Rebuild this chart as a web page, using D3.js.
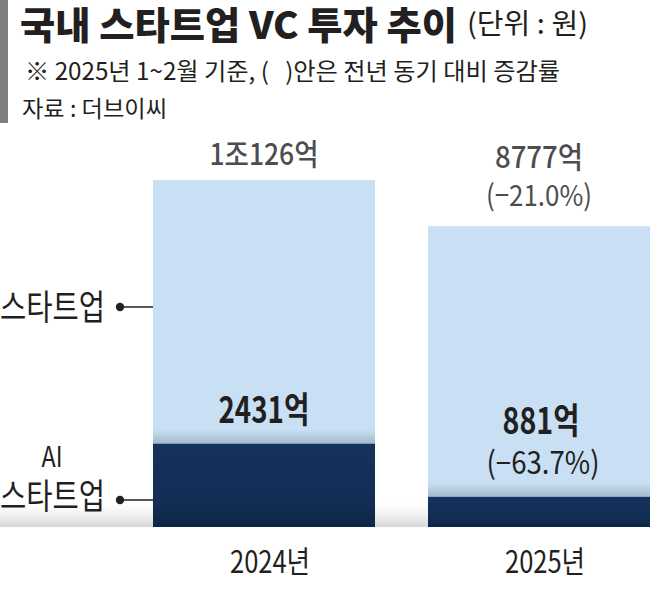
<!DOCTYPE html>
<html>
<head>
<meta charset="utf-8">
<script src="https://cdn.jsdelivr.net/npm/d3@7/dist/d3.min.js"></script>
<style>
  html, body { margin: 0; padding: 0; background: #fff; }
  svg { display: block; }
  text { font-family: "Noto Sans CJK KR", "Noto Sans", sans-serif; white-space: pre; }
</style>
</head>
<body>
<svg id="chart" width="650" height="591"></svg>
<script>
// ---- data ----
const years = ["2024년", "2025년"];
const totalValues = [10126, 8777];      // 스타트업 전체 (억 원)
const aiValues = [2431, 881];           // AI 스타트업 (억 원)
const totalLabels = ["1조126억", "8777억"];
const totalChanges = [null, "(−21.0%)"];
const aiLabels = ["2431억", "881억"];
const aiChanges = [null, "(−63.7%)"];

const titleText = "국내 스타트업 VC 투자 추이";
const unitText = "(단위 : 원)";
const noteText = "※ 2025년 1~2월 기준, (   )안은 전년 동기 대비 증감률";
const sourceText = "자료 : 더브이씨";
const seriesNames = ["스타트업", "AI", "스타트업"];

// ---- setup ----
const svg = d3.select("#chart");
const W = 650, H = 591;
const baseY = 527;

const x = d3.scaleBand().domain(years).range([153, 650]).paddingInner(53 / 275).paddingOuter(0);
const y = d3.scaleLinear().domain([0, d3.max(totalValues)]).range([baseY, 180]);

const defs = svg.append("defs");
const floorG = defs.append("linearGradient").attr("id", "floor").attr("x1", 0).attr("y1", 0).attr("x2", 0).attr("y2", 1);
floorG.append("stop").attr("offset", "0%").attr("stop-color", "#ffffff").attr("stop-opacity", 0);
floorG.append("stop").attr("offset", "100%").attr("stop-color", "#d6d6d6").attr("stop-opacity", 1);

const shadeG = defs.append("linearGradient").attr("id", "shade").attr("x1", 0).attr("y1", 0).attr("x2", 0).attr("y2", 1);
shadeG.append("stop").attr("offset", "0%").attr("stop-color", "#c9e0f4");
shadeG.append("stop").attr("offset", "100%").attr("stop-color", "#a4b8ca");

const darkG = defs.append("linearGradient").attr("id", "dark").attr("x1", 0).attr("y1", 0).attr("x2", 0).attr("y2", 1);
darkG.append("stop").attr("offset", "0%").attr("stop-color", "#14325b");
darkG.append("stop").attr("offset", "70%").attr("stop-color", "#122e55");
darkG.append("stop").attr("offset", "100%").attr("stop-color", "#0d2646");

// helper for condensed text
function label(g, txt, opts) {
  const t = g.append("text")
    .attr("x", opts.x).attr("y", opts.y)
    .attr("font-size", opts.size)
    .attr("font-weight", opts.weight || 400)
    .attr("fill", opts.fill || "#231f20")
    .attr("text-anchor", opts.anchor || "start")
    .attr("xml:space", "preserve")
    .text(txt);
  if (opts.len) t.attr("textLength", opts.len).attr("lengthAdjust", "spacingAndGlyphs");
  return t;
}

// ---- header ----
svg.append("rect").attr("x", 0).attr("y", 0).attr("width", 8).attr("height", 123).attr("fill", "#7f7f80");
label(svg, titleText, { x: 20, y: 39, size: 38, weight: 900, len: 437 });
label(svg, unitText, { x: 467, y: 34, size: 28, len: 121 });
label(svg, noteText, { x: 25, y: 80, size: 24, len: 535 });
label(svg, sourceText, { x: 22, y: 117, size: 23, len: 145 });

// ---- floor shadow ----
svg.append("rect").attr("x", 0).attr("y", baseY - 30).attr("width", W).attr("height", 30).attr("fill", "url(#floor)");

// ---- bars ----
const bars = svg.append("g");
years.forEach((yr, i) => {
  const bx = x(yr), bw = x.bandwidth();
  bars.append("rect").attr("x", bx).attr("y", y(totalValues[i]))
    .attr("width", bw).attr("height", baseY - y(totalValues[i])).attr("fill", "#c9e0f4");
  bars.append("rect").attr("x", bx).attr("y", y(aiValues[i]) - 14)
    .attr("width", bw).attr("height", 14).attr("fill", "url(#shade)");
  bars.append("rect").attr("x", bx).attr("y", y(aiValues[i]))
    .attr("width", bw).attr("height", baseY - y(aiValues[i])).attr("fill", "url(#dark)");
});

// ---- value labels ----
const lab = svg.append("g");
const topLens = [109, 88];
const aiLens = [91, 77];
years.forEach((yr, i) => {
  const cx = x(yr) + x.bandwidth() / 2;
  const top = y(totalValues[i]);
  if (totalChanges[i]) {
    label(lab, totalLabels[i], { x: cx, y: top - 58, size: 30, weight: 500, fill: "#4d4d4f", anchor: "middle", len: topLens[i] });
    label(lab, totalChanges[i], { x: cx, y: top - 20, size: 29, weight: 400, fill: "#4d4d4f", anchor: "middle", len: 106 });
  } else {
    label(lab, totalLabels[i], { x: cx, y: top - 15, size: 30, weight: 500, fill: "#4d4d4f", anchor: "middle", len: topLens[i] });
  }
  const aTop = y(aiValues[i]);
  if (aiChanges[i]) {
    label(lab, aiLabels[i], { x: cx + 2, y: aTop - 63, size: 36, weight: 700, anchor: "middle", len: aiLens[i] });
    label(lab, aiChanges[i], { x: cx + 4, y: aTop - 23, size: 31, weight: 400, anchor: "middle", len: 113 });
  } else {
    label(lab, aiLabels[i], { x: cx, y: aTop - 21, size: 36, weight: 700, anchor: "middle", len: aiLens[i] });
  }
  label(lab, yr, { x: cx + 6, y: 573, size: 31, anchor: "middle", len: 80 });
});

// ---- series callouts ----
const call = svg.append("g");
const x0 = x(years[0]);
[[307, 0, 320], [500, 2, 509]].forEach(([cy, idx, ty]) => {
  call.append("line").attr("x1", 120).attr("x2", x0).attr("y1", cy).attr("y2", cy)
    .attr("stroke", "#231f20").attr("stroke-width", 1.6);
  call.append("circle").attr("cx", 120).attr("cy", cy).attr("r", 4.2).attr("fill", "#231f20");
  label(call, seriesNames[idx], { x: 0, y: ty, size: 35, len: 105 });
});
label(call, seriesNames[1], { x: 52, y: 467, size: 28, anchor: "middle", len: 21 });
</script>
</body>
</html>
